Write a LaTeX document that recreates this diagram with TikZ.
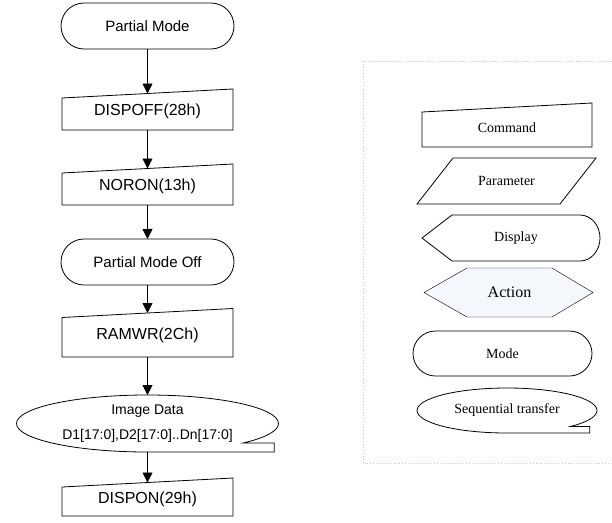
\documentclass[tikz,border=0pt]{standalone}
\usepackage{fontspec}
\setmainfont{Liberation Sans}
\newfontfamily\legendfont{Liberation Serif}
\usepackage{xcolor}
\usepackage{tikz}
\usetikzlibrary{arrows.meta, positioning, shapes.misc, backgrounds}

\definecolor{actionfill}{RGB}{244,247,252}

% outlines drawn round plain nodes
\newcommand{\cmdoutline}[1]{\draw (#1.south west) -- (#1.south east) -- ([yshift=4.5pt]#1.north east) -- ([yshift=-4.5pt]#1.north west) -- cycle;}
\newcommand{\paramoutline}[1]{\draw ([xshift=18pt]#1.north west) -- ([xshift=18pt]#1.north east) -- ([xshift=-18pt]#1.south east) -- ([xshift=-18pt]#1.south west) -- cycle;}
\newcommand{\dispoutline}[1]{\draw ([xshift=-30pt]#1.west) -- (#1.south west) -- (#1.south east) arc[start angle=-90, end angle=90, x radius=20pt, y radius=23pt] -- (#1.north west) -- cycle;}
\newcommand{\actionoutline}[1]{\draw[fill=actionfill] ([xshift=-43pt]#1.west) -- (#1.south west) -- (#1.south east) -- ([xshift=41pt]#1.east) -- (#1.north east) -- (#1.north west) -- cycle;}
\newcommand{\tapeoutline}[5]{\draw (#1.south) arc[start angle=-90, end angle=#4, x radius=#2, y radius=#3] -- ++(#5,0) |- (#1.south);}

\begin{document}
\begin{tikzpicture}[
    x=1pt, y=-1pt,
    line width=0.8pt,
    box/.style={rectangle, inner sep=0pt, outer sep=0pt, align=center},
    cmd/.style={box, minimum width=171pt, font=\fontsize{16}{19}\selectfont},
    mode/.style={draw, rounded rectangle, inner sep=0pt, outer sep=0pt, minimum width=173pt, minimum height=46pt, font=\fontsize{15}{18}\selectfont},
    legend/.style={box, font=\legendfont\fontsize{14}{17}\selectfont},
    arrow/.style={-{Triangle[length=10pt, width=10pt]}},
    frame/.style={gray!45, dotted, line width=0.9pt}
]
\useasboundingbox (0,0) rectangle (612,522);

% flow
\node[mode] (pm) at (147.5,26) {Partial Mode};
\node[cmd, minimum height=36.5pt] (dispoff) at (147.5,111.75) {DISPOFF(28h)};
\node[cmd, minimum height=36.5pt] (noron) at (147.5,186.75) {NORON(13h)};
\node[mode] (pmoff) at (147.5,262) {Partial Mode Off};
\node[cmd, minimum height=44pt] (ramwr) at (147.5,335) {RAMWR(2Ch)};
\node[box, minimum width=262pt, minimum height=57pt, font=\fontsize{14}{25}\selectfont] (img) at (147.5,423.5) {Image Data\\D1[17:0],D2[17:0]..Dn[17:0]};
\node[cmd, minimum height=33.5pt] (dispon) at (147.5,499.25) {DISPON(29h)};

\foreach \n in {dispoff,noron,ramwr,dispon} {\cmdoutline{\n}}
\tapeoutline{img}{131pt}{28.5pt}{-403}{31}

\draw[arrow] (pm) -- (dispoff);
\draw[arrow] (dispoff) -- (noron);
\draw[arrow] (noron) -- (pmoff);
\draw[arrow] (pmoff) -- (ramwr);
\draw[arrow] (ramwr) -- (img);
\draw[arrow] (img) -- (dispon);

% legend
\draw[frame] (612,61) -- (363,61) -- (363,463) -- (612,463);

\node[legend, minimum width=170pt, minimum height=39.5pt] (command) at (507,127.25) {Command};
\node[legend, minimum width=143pt, minimum height=46pt] (parameter) at (506.5,181) {Parameter};
\node[legend, minimum width=128pt, minimum height=46pt] (display) at (516,238) {Display};
\node[legend, minimum width=85pt, minimum height=49pt, font=\legendfont\fontsize{16}{19}\selectfont] (action) at (509.5,292.5) {Action};
\node[mode, minimum width=179pt, minimum height=45pt, font=\legendfont\fontsize{14}{17}\selectfont] (modekey) at (502.5,353.5) {Mode};
\node[legend, minimum width=180pt, minimum height=45pt] (seqkey) at (507,410.5) {Sequential transfer};

\cmdoutline{command}
\paramoutline{parameter}
\dispoutline{display}
\begin{scope}[on background layer]
\actionoutline{action}
\end{scope}
\tapeoutline{seqkey}{90pt}{22.5pt}{-405}{19}

\end{tikzpicture}
\end{document}
